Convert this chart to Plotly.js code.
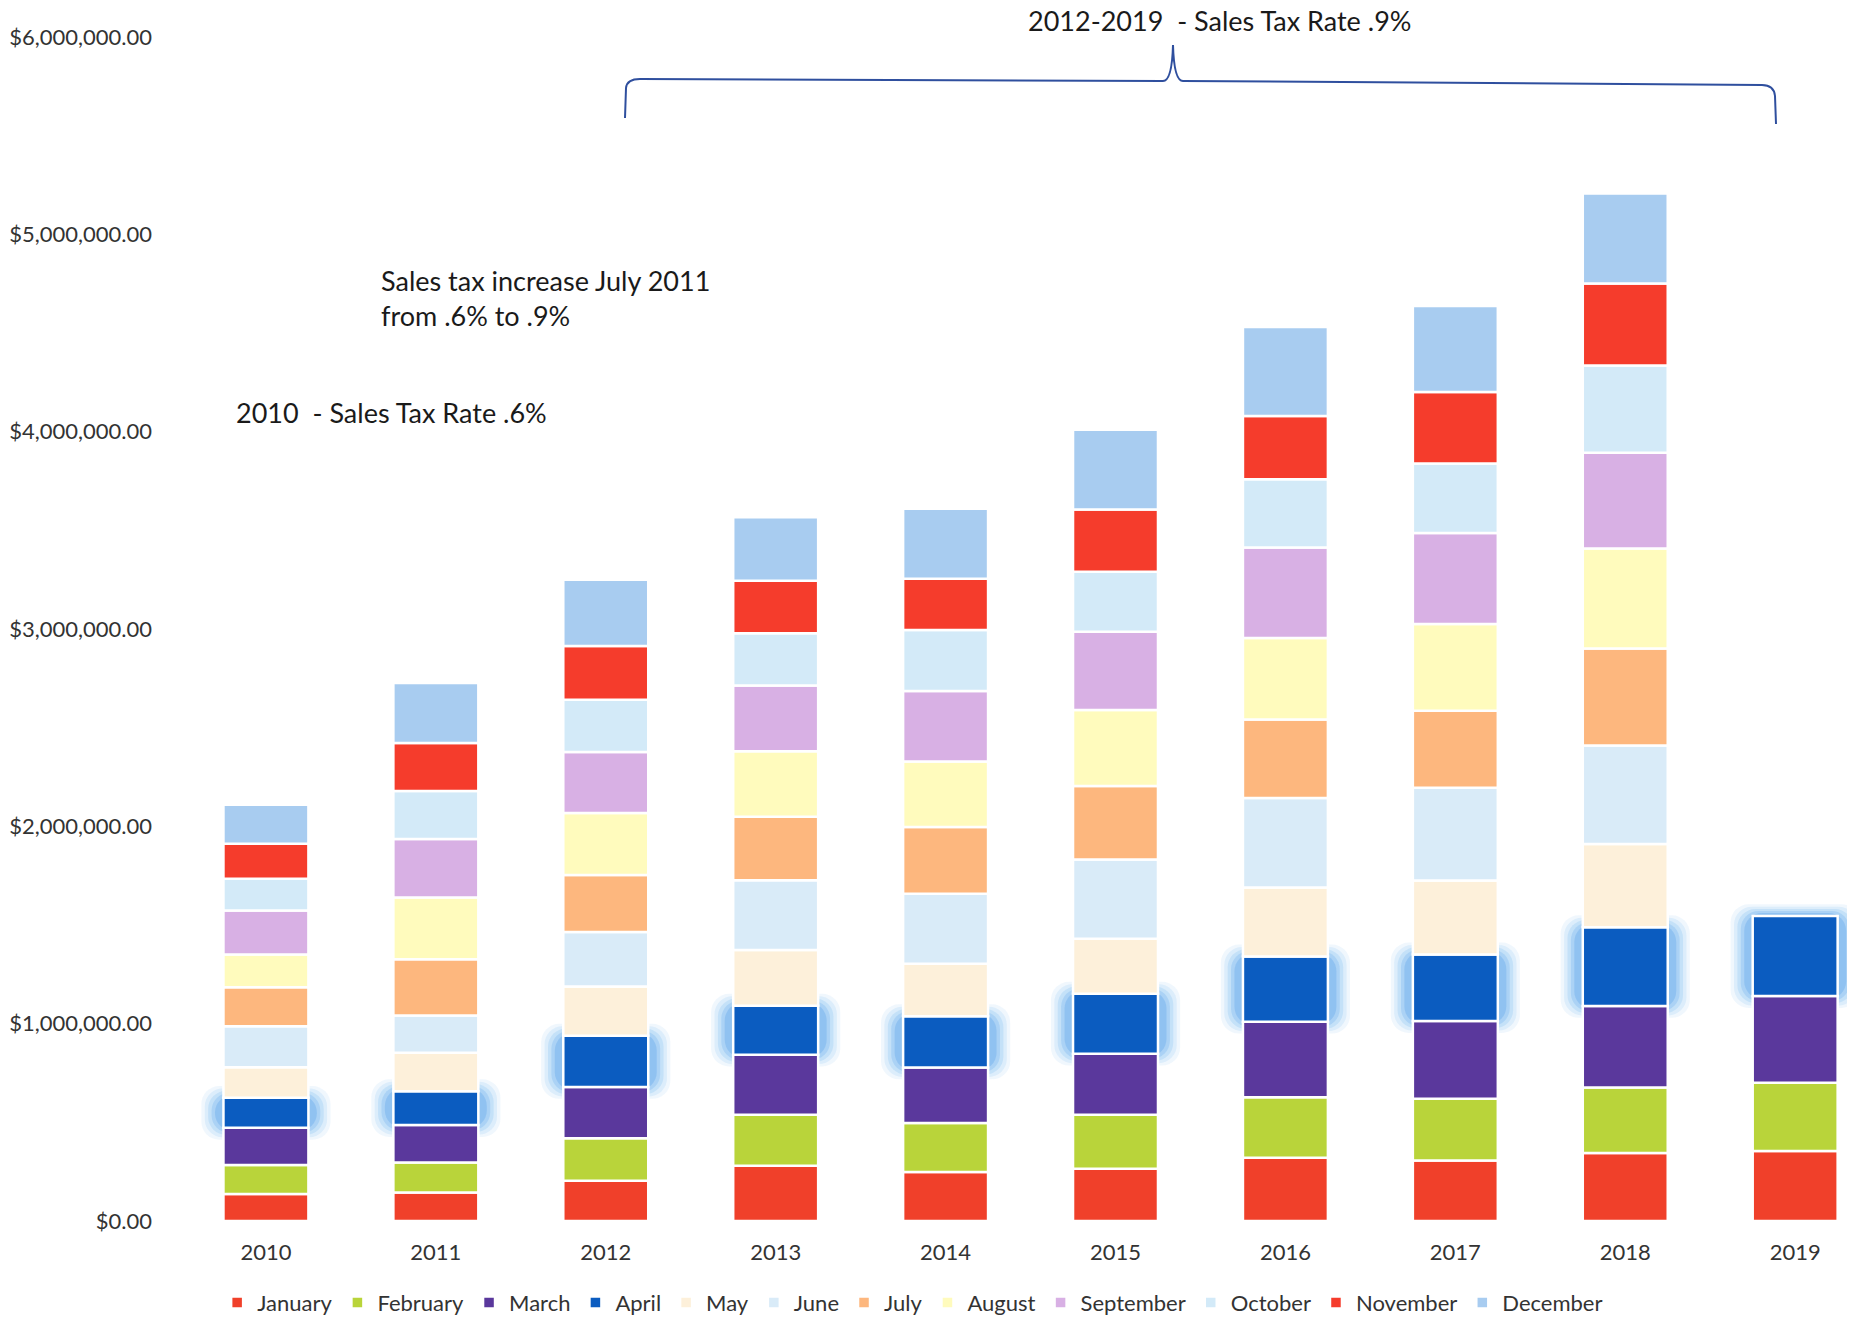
<!DOCTYPE html>
<html>
<head>
<meta charset="utf-8">
<script src="https://cdn.plot.ly/plotly-3.0.1.min.js"></script>
<style>html,body{margin:0;padding:0;background:#fff;}</style>
</head>
<body>
<div id="chart" style="width:1852px;height:1322px;"></div>
<script>
// Categories
const years = ['2010','2011','2012','2013','2014','2015','2016','2017','2018','2019'];
const monthNames = ['January','February','March','April','May','June','July','August','September','October','November','December'];

// Monthly sales tax revenue (USD), one array per month, one value per year
const january   = [137000, 144000, 204000, 280000, 248000, 265000, 321000, 307000, 344000, 355000];
const february  = [147000, 152000, 215000, 259000, 248000, 273000, 306000, 313000, 332000, 346000];
const march     = [188000, 190000, 260000, 304000, 282000, 310000, 383000, 393000, 414000, 439000];
const april     = [152000, 172000, 260000, 248000, 260000, 304000, 331000, 338000, 399000, 405000];
const may       = [155000, 195000, 249000, 282000, 266000, 278000, 349000, 375000, 421000, null];
const june      = [208000, 188000, 276000, 354000, 354000, 402000, 453000, 470000, 500000, null];
const july      = [198000, 286000, 290000, 322000, 339000, 373000, 398000, 390000, 491000, null];
const august    = [165000, 312000, 313000, 331000, 332000, 384000, 413000, 439000, 507000, null];
const september = [223000, 297000, 310000, 334000, 357000, 397000, 459000, 461000, 485000, null];
const october   = [162000, 243000, 265000, 264000, 309000, 304000, 346000, 353000, 442000, null];
const november  = [177000, 243000, 272000, 266000, 260000, 315000, 321000, 362000, 416000, null];
const december  = [198000, 304000, 335000, 322000, 354000, 405000, 450000, 436000, 456000, null];

const yTicks = [0, 1000000, 2000000, 3000000, 4000000, 5000000, 6000000];

const series = [january, february, march, april, may, june, july, august, september, october, november, december];
const colors = ['#f0402a','#b9d43a','#5a389c','#0b5cc0','#fdf0da','#d9ebf8','#fdb77e','#fffbbd','#d8b0e4','#d3eaf8','#f53c2c','#a8ccf0'];

// cumulative bases (stacking computed from the data)
const bases = [];
let running = years.map(() => 0);
series.forEach(s => {
  bases.push(running.slice());
  running = running.map((v, i) => v + (s[i] || 0));
});

const traces = [];
// soft glow behind April segments (several translucent layers)
const aprBase = bases[3];
const glowLayers = [
  [0.76, 'rgba(110,180,240,0.10)', 60000],
  [0.72, 'rgba(100,175,240,0.14)', 48000],
  [0.68, 'rgba(90,170,238,0.18)', 36000],
  [0.64, 'rgba(80,160,235,0.22)', 26000],
  [0.60, 'rgba(70,150,232,0.26)', 16000]
];
glowLayers.forEach(g => {
  traces.push({
    type: 'bar', x: years,
    y: april.map(v => v + 2 * g[2]),
    base: aprBase.map(b => b - g[2]),
    width: g[0],
    marker: {color: g[1], line: {width: 0}, cornerradius: 18},
    showlegend: false, hoverinfo: 'skip'
  });
});

series.forEach((s, k) => {
  traces.push({
    type: 'bar', name: monthNames[k], x: years, y: s, base: bases[k],
    width: 0.5,
    marker: {color: colors[k], line: {color: '#ffffff', width: 2.5}},
    hoverinfo: 'name+y'
  });
});

const L = 165, R = 1847, T = 37, B = 1221;
const px = x => (x - L) / (R - L);
const py = y => (B - y) / (B - T);

const layout = {
  width: 1852, height: 1322,
  margin: {l: L, r: 1852 - R, t: T, b: 1322 - B, autoexpand: false},
  paper_bgcolor: '#ffffff', plot_bgcolor: '#ffffff',
  barmode: 'overlay',
  font: {family: 'Lato, "Open Sans", sans-serif', color: '#333333'},
  xaxis: {
    type: 'category', range: [-0.594, 9.305],
    showgrid: false, zeroline: false, showline: false, ticks: '',
    tickfont: {size: 22, color: '#333333'}, ticklabelstandoff: 16, automargin: false
  },
  yaxis: {
    range: [0, 6000000], tickvals: yTicks, tickformat: '$,.2f',
    showgrid: false, zeroline: false, showline: false, ticks: '',
    tickfont: {size: 22, color: '#333333'}, ticklabelstandoff: 12, automargin: false
  },
  legend: {
    orientation: 'h', x: 0.031, xanchor: 'left', y: -0.069, yanchor: 'middle',
    font: {size: 22, color: '#333333'}, traceorder: 'normal', itemwidth: 30
  },
  annotations: [
    {xref: 'paper', yref: 'paper', x: px(1219), y: py(21), xanchor: 'center', yanchor: 'middle',
     text: '2012-2019\u00a0\u00a0- Sales Tax Rate .9%', showarrow: false, font: {size: 27, color: '#1a1a1a'}},
    {xref: 'paper', yref: 'paper', x: px(379), y: py(298), xanchor: 'left', yanchor: 'middle', align: 'left',
     text: 'Sales tax increase July 2011<br>from .6% to .9%', showarrow: false, font: {size: 27, color: '#1a1a1a'}},
    {xref: 'paper', yref: 'paper', x: px(234), y: py(412), xanchor: 'left', yanchor: 'middle',
     text: '2010\u00a0\u00a0- Sales Tax Rate .6%', showarrow: false, font: {size: 27, color: '#1a1a1a'}}
  ],
  shapes: [{
    type: 'path', xref: 'paper', yref: 'paper',
    path: 'M ' + px(625) + ',' + py(118) + ' L ' + px(626) + ',' + py(88) +
          ' Q ' + px(627) + ',' + py(79) + ' ' + px(640) + ',' + py(79) +
          ' L ' + px(1163) + ',' + py(81) +
          ' Q ' + px(1172) + ',' + py(81) + ' ' + px(1173) + ',' + py(45) +
          ' Q ' + px(1174) + ',' + py(81) + ' ' + px(1183) + ',' + py(81) +
          ' L ' + px(1762) + ',' + py(85) +
          ' Q ' + px(1774) + ',' + py(85) + ' ' + px(1775) + ',' + py(96) +
          ' L ' + px(1776) + ',' + py(124),
    line: {color: '#2f4f9e', width: 2}
  }]
};

Plotly.newPlot('chart', traces, layout, {displayModeBar: false, staticPlot: true});
</script>
</body>
</html>
